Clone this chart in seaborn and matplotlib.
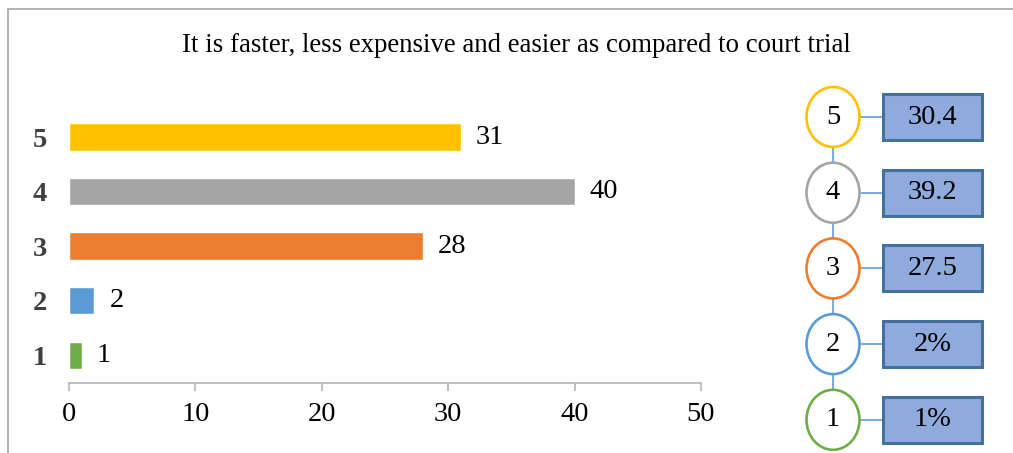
import matplotlib
matplotlib.use("Agg")
import matplotlib.pyplot as plt
from matplotlib.patches import Ellipse, Rectangle
import seaborn as sns
import pandas as pd

# ---- data ----
categories = ["5", "4", "3", "2", "1"]
values = [31, 40, 28, 2, 1]
percent_labels = ["30.4", "39.2", "27.5", "2%", "1%"]
colors = ["#FFC000", "#A5A5A5", "#ED7D31", "#5B9BD5", "#70AD47"]
x_ticks = [0, 10, 20, 30, 40, 50]
title = "It is faster, less expensive and easier as compared to court trial"

sns.set_theme(style="white")
plt.rcParams["font.family"] = ["Liberation Serif", "DejaVu Serif"]

FS = 20.5
W, H = 1013, 453
fig = plt.figure(figsize=(W / 100, H / 100), dpi=100)

# outer frame (top and left visible)
fig.add_artist(Rectangle((8 / W, -0.2), 1.2, 1.2 - 9 / H, transform=fig.transFigure,
                         fill=False, edgecolor="#A6A6A6", linewidth=1.2))

fig.text(516 / W, 1 - 46 / H, title, ha="center", va="center", fontsize=19.3, color="black")

# ---- main bar chart ----
ax = fig.add_axes([69 / W, 1 - 383 / H, (701 - 69) / W, (383 - 109.75) / H])
df = pd.DataFrame({"category": categories, "value": values})
palette = dict(zip(categories, colors))
sns.barplot(data=df, x="value", y="category", hue="category", order=categories,
            hue_order=categories, palette=palette, width=0.5, saturation=1,
            legend=False, orient="h", ax=ax)
for cont in ax.containers:
    ax.bar_label(cont, padding=11, fontsize=FS, color="black")
ax.set_xlim(0, 50)
ax.set_ylim(4.51, -0.5)
ax.set_xticks(x_ticks)
ax.set_xticklabels([str(t) for t in x_ticks], fontsize=FS, color="black")
ax.set_xlabel("")
ax.set_ylabel("")
for s in ["top", "right", "left"]:
    ax.spines[s].set_visible(False)
ax.spines["bottom"].set_color("#B4B4B4")
ax.spines["bottom"].set_linewidth(1.2)
ax.tick_params(axis="x", bottom=True, direction="out", length=5.5, width=1.2,
               color="#B4B4B4", pad=8)
ax.tick_params(axis="y", left=False, length=0, pad=16)
for lab in ax.get_yticklabels():
    lab.set_fontsize(FS)
    lab.set_fontweight("bold")
    lab.set_color("#404040")

# ---- right diagram ----
x0, y0, x1, y1 = 795, 80, 1005, 453
dax = fig.add_axes([x0 / W, 1 - y1 / H, (x1 - x0) / W, (y1 - y0) / H])
dax.set_xlim(x0, x1)
dax.set_ylim(y1, y0)
dax.axis("off")

ell_cx, ell_w, ell_h = 833, 53, 60
box_l, box_w, box_h = 883, 99, 46
top_cy, step = 117, 75.7
line_col = "#6FA3DB"
n = len(categories)
centers = [top_cy + step * i for i in range(n)]
for i in range(n - 1):
    dax.plot([ell_cx, ell_cx], [centers[i] + ell_h / 2, centers[i + 1] - ell_h / 2],
             color=line_col, lw=1.3, zorder=1)
for i, (cat, pl, col) in enumerate(zip(categories, percent_labels, colors)):
    cy = centers[i]
    dax.plot([ell_cx + ell_w / 2, box_l], [cy, cy], color=line_col, lw=1.3, zorder=1)
    dax.add_patch(Ellipse((ell_cx, cy), ell_w, ell_h, facecolor="white",
                          edgecolor=col, lw=1.9, zorder=2))
    dax.text(ell_cx, cy, cat, ha="center", va="center", fontsize=FS, color="black", zorder=3)
    dax.add_patch(Rectangle((box_l, cy - box_h / 2), box_w, box_h, facecolor="#8FAADC",
                            edgecolor="#41719C", lw=2.2, zorder=2))
    dax.text(box_l + box_w / 2, cy, pl, ha="center", va="center", fontsize=FS,
             color="black", zorder=3)

fig.savefig("out.png", dpi=100)
